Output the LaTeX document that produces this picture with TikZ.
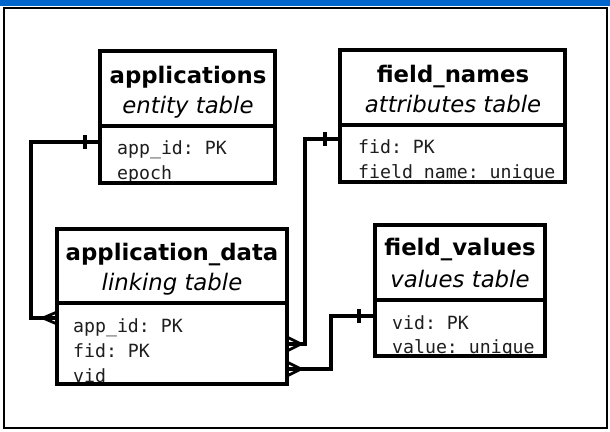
\documentclass[tikz,border=0pt]{standalone}
\usepackage{fontspec}
\setmainfont{DejaVu Sans}[ItalicFont={DejaVu Sans Oblique},BoldFont={DejaVu Sans Bold}]
\setmonofont{DejaVu Sans Mono}
\definecolor{topblue}{RGB}{0,102,204}
\definecolor{fldgray}{RGB}{30,30,30}
\begin{document}
\begin{tikzpicture}[x=1pt,y=-1pt,
  tbl/.style={draw, line width=3.2pt, rectangle, inner sep=0pt, outer sep=0pt},
  ttl/.style={anchor=base, inner sep=0pt, font=\fontsize{22.8}{27}\selectfont\bfseries},
  sub/.style={anchor=base, inner sep=0pt, font=\fontsize{22.8}{27}\selectfont\itshape},
  fld/.style={anchor=base west, inner sep=0pt, text=fldgray, font=\fontsize{18.2}{22}\selectfont\ttfamily},
  conn/.style={line width=3.2pt},
  foot/.style={line width=2.8pt},
  divider/.style={line width=3.2pt}
]
\useasboundingbox (0,0) rectangle (610,431);
\fill[white] (0,0) rectangle (610,431);
\fill[topblue] (0,0) rectangle (610,6);
\draw[line width=2.8pt] (4,8) rectangle (607,428);

% texts
\node[ttl] (t1) at (188,83) {applications};
\node[sub] (s1) at (188,113) {entity table};
\node[fld] (f11) at (117,154) {app\_id: PK};
\node[fld] (f12) at (117,179) {epoch};

\node[ttl] (t2) at (453,82) {field\_names};
\node[sub] (s2) at (453,112) {attributes table};
\node[fld] (f21) at (358,153) {fid: PK};
\node[fld] (f22) at (358,178) {field\_name: unique};

\node[ttl] (t3) at (172,260) {application\_data};
\node[sub] (s3) at (172,290) {linking table};
\node[fld] (f31) at (73,332) {app\_id: PK};
\node[fld] (f32) at (73,357) {fid: PK};
\node[fld] (f33) at (73,382) {vid};

\node[ttl] (t4) at (460,255) {field\_values};
\node[sub] (s4) at (460,287) {values table};
\node[fld] (f41) at (392,329) {vid: PK};
\node[fld] (f42) at (392,353) {value: unique};

% boxes
\node[tbl, minimum width=175pt, minimum height=132pt] (apps) at (187.5,117) {};
\node[tbl, minimum width=225pt, minimum height=132pt] (fnames) at (452.5,116) {};
\node[tbl, minimum width=230pt, minimum height=155pt] (appdata) at (172,306.5) {};
\node[tbl, minimum width=170pt, minimum height=131pt] (fvalues) at (460,290.5) {};

\draw[divider] (apps.west |- 0,126) -- (apps.east |- 0,126);
\draw[divider] (fnames.west |- 0,125) -- (fnames.east |- 0,125);
\draw[divider] (appdata.west |- 0,303) -- (appdata.east |- 0,303);
\draw[divider] (fvalues.west |- 0,300) -- (fvalues.east |- 0,300);

% connectors
\draw[conn] (apps.west |- 0,142) -- (31,142) |- (appdata.west |- 0,318);
\draw[conn] (85,135) -- (85,149);
\draw[foot] (43,318) -- (appdata.west |- 0,312);
\draw[foot] (43,318) -- (appdata.west |- 0,324);

\draw[conn] (fnames.west |- 0,139) -- (305,139) |- (appdata.east |- 0,344);
\draw[conn] (325,132) -- (325,146);
\draw[foot] (301,344) -- (appdata.east |- 0,337);
\draw[foot] (301,344) -- (appdata.east |- 0,351);

\draw[conn] (fvalues.west |- 0,316) -- (331,316) |- (appdata.east |- 0,369);
\draw[conn] (359,309) -- (359,323);
\draw[foot] (301,369) -- (appdata.east |- 0,362);
\draw[foot] (301,369) -- (appdata.east |- 0,376);
\end{tikzpicture}
\end{document}
